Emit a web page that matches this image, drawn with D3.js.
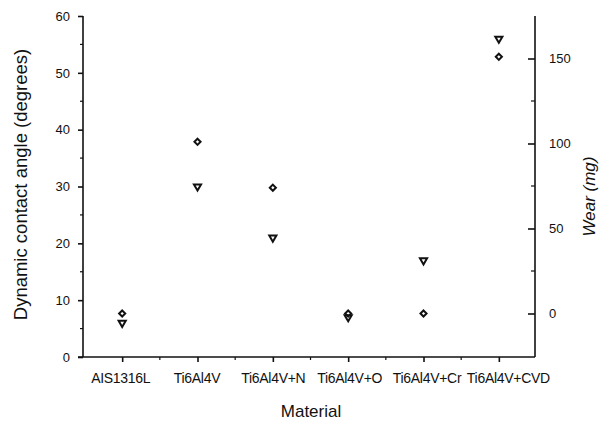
<!DOCTYPE html>
<html>
<head>
<meta charset="utf-8">
<script src="https://cdn.jsdelivr.net/npm/d3@7"></script>
<style>
  body { margin: 0; background: #fff; }
  svg text { font-family: "Liberation Sans", Arial, sans-serif; fill: #111; }
</style>
</head>
<body>
<div id="row"></div>
<script>
// chart data
var materials = ["AIS1316L", "Ti6Al4V", "Ti6Al4V+N", "Ti6Al4V+O", "Ti6Al4V+Cr", "Ti6Al4V+CVD"];
var contactAngle = [6, 30, 21, 7, 17, 56];     // triangles, left axis
var wear = [0, 101, 74, 0, 0, 151];            // diamonds, right axis
var leftTicks = [0, 10, 20, 30, 40, 50, 60];
var rightTicks = [0, 50, 100, 150];

function drawChart() {
  var svgWidth = 610, svgHeight = 429;
  var margin = { left: 83, right: 535, top: 16, bottom: 357 };

  var svg = d3.select("#row").append("svg")
    .attr("width", svgWidth)
    .attr("height", svgHeight);

  var x = d3.scaleLinear().domain([-0.52, 5.48]).range([margin.left, margin.right]);
  var yLeft = d3.scaleLinear().domain([0, 60]).range([margin.bottom, margin.top]);
  var yRight = d3.scaleLinear().domain([0, 150]).range([313.5, 58.5]);

  var black = "#111";

  // left axis
  var leftAxis = d3.axisLeft(yLeft).tickValues(leftTicks).tickSize(5).tickPadding(8);
  var gl = svg.append("g").attr("transform", "translate(" + margin.left + ",0)").call(leftAxis);
  gl.select(".domain").attr("d", "M0," + margin.top + "V" + margin.bottom);
  gl.selectAll("line, path").attr("stroke", black).attr("stroke-width", 1.6);
  gl.selectAll("text").style("font-size", "13px");
  // minor ticks
  svg.append("g").selectAll("line")
    .data(d3.range(5, 60, 10))
    .join("line")
    .attr("x1", margin.left - 3).attr("x2", margin.left)
    .attr("y1", d => yLeft(d)).attr("y2", d => yLeft(d))
    .attr("stroke", black).attr("stroke-width", 1.2);

  // right axis, ticks pointing into the plot
  var rightAxis = d3.axisRight(yRight).tickValues(rightTicks).tickSize(-7).tickPadding(14);
  var gr = svg.append("g").attr("transform", "translate(" + margin.right + ",0)").call(rightAxis);
  gr.select(".domain").attr("d", "M0," + margin.top + "V" + margin.bottom);
  gr.selectAll("line, path").attr("stroke", black).attr("stroke-width", 1.6);
  gr.selectAll("text").style("font-size", "13px");
  svg.append("g").selectAll("line")
    .data([25, 75, 125])
    .join("line")
    .attr("x1", margin.right - 4).attr("x2", margin.right)
    .attr("y1", d => yRight(d)).attr("y2", d => yRight(d))
    .attr("stroke", black).attr("stroke-width", 1.2);

  // bottom axis
  var labelShift = [-2, -1, 0, 1, 3, 9];
  var bottomAxis = d3.axisBottom(x).tickValues(d3.range(materials.length))
    .tickFormat(i => materials[i]).tickSize(5).tickPadding(11);
  var gb = svg.append("g").attr("transform", "translate(0," + margin.bottom + ")").call(bottomAxis);
  gb.select(".domain").attr("d", "M" + (margin.left - 5) + ",0H" + margin.right);
  gb.selectAll("line, path").attr("stroke", black).attr("stroke-width", 1.6);
  gb.selectAll("text")
    .style("font-size", "14px")
    .style("letter-spacing", "-0.3px")
    .attr("dx", (d, i) => labelShift[i]);
  svg.append("g").selectAll("line")
    .data(d3.range(0.5, materials.length - 1, 1))
    .join("line")
    .attr("x1", d => x(d)).attr("x2", d => x(d))
    .attr("y1", margin.bottom).attr("y2", margin.bottom + 3)
    .attr("stroke", black).attr("stroke-width", 1.2);

  // titles
  svg.append("text")
    .attr("transform", "translate(27," + ((margin.top + margin.bottom) / 2 - 2) + ") rotate(-90)")
    .attr("text-anchor", "middle")
    .style("font-size", "18.5px")
    .text("Dynamic contact angle (degrees)");

  svg.append("text")
    .attr("transform", "translate(595," + ((margin.top + margin.bottom) / 2 + 10) + ") rotate(-90)")
    .attr("text-anchor", "middle")
    .style("font-size", "17px")
    .style("font-style", "italic")
    .text("Wear (mg)");

  svg.append("text")
    .attr("x", (margin.left + margin.right) / 2 + 2)
    .attr("y", 417)
    .attr("text-anchor", "middle")
    .style("font-size", "17px")
    .text("Material");

  // markers
  var tri = d3.symbol().type(d3.symbolTriangle).size(22);
  svg.append("g").selectAll("path")
    .data(contactAngle)
    .join("path")
    .attr("d", tri)
    .attr("transform", (d, i) => "translate(" + x(i) + "," + yLeft(d) + ") rotate(180)")
    .attr("fill", "none")
    .attr("stroke", black)
    .attr("stroke-width", 2);

  var dia = d3.symbol().type(d3.symbolDiamond2).size(24);
  svg.append("g").selectAll("path")
    .data(wear)
    .join("path")
    .attr("d", dia)
    .attr("transform", (d, i) => "translate(" + x(i) + "," + yRight(d) + ")")
    .attr("fill", "none")
    .attr("stroke", black)
    .attr("stroke-width", 2);
}

drawChart();
</script>
</body>
</html>
